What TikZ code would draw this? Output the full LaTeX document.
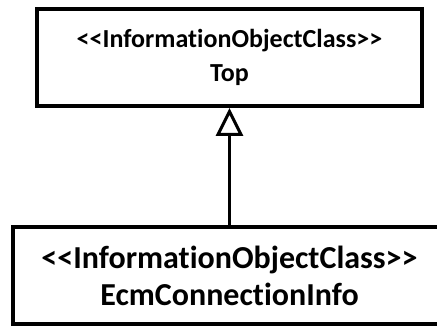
\documentclass[tikz,border=0pt]{standalone}
\usepackage{fontspec}
\setmainfont{Carlito}[Ligatures={TeXOff,NoCommon}]
\usetikzlibrary{arrows.meta,positioning}
\tikzset{
  classbox/.style={draw,line width=4pt,align=center,inner sep=0pt},
  inherit/.style={line width=3pt,-{Triangle[open,length=28pt,width=27pt,line width=3pt]}}
}

\begin{document}
\begin{tikzpicture}[x=1pt,y=1pt]
  \clip (0,0) rectangle (437,327);
  % parent class
  \node[classbox,minimum width=385pt,minimum height=97pt,
        font=\fontsize{26}{34}\selectfont\bfseries] (top) at (229.5,269.5)
    {<<InformationObjectClass>>\\Top};
  % child class
  \node[classbox,minimum width=433pt,minimum height=97pt,
        font=\fontsize{32}{37}\selectfont\bfseries] (ecm) at (229.5,51.5)
    {<<InformationObjectClass>>\\EcmConnectionInfo};
  % generalisation
  \draw[inherit] (ecm) -- (top);
\end{tikzpicture}
\end{document}
